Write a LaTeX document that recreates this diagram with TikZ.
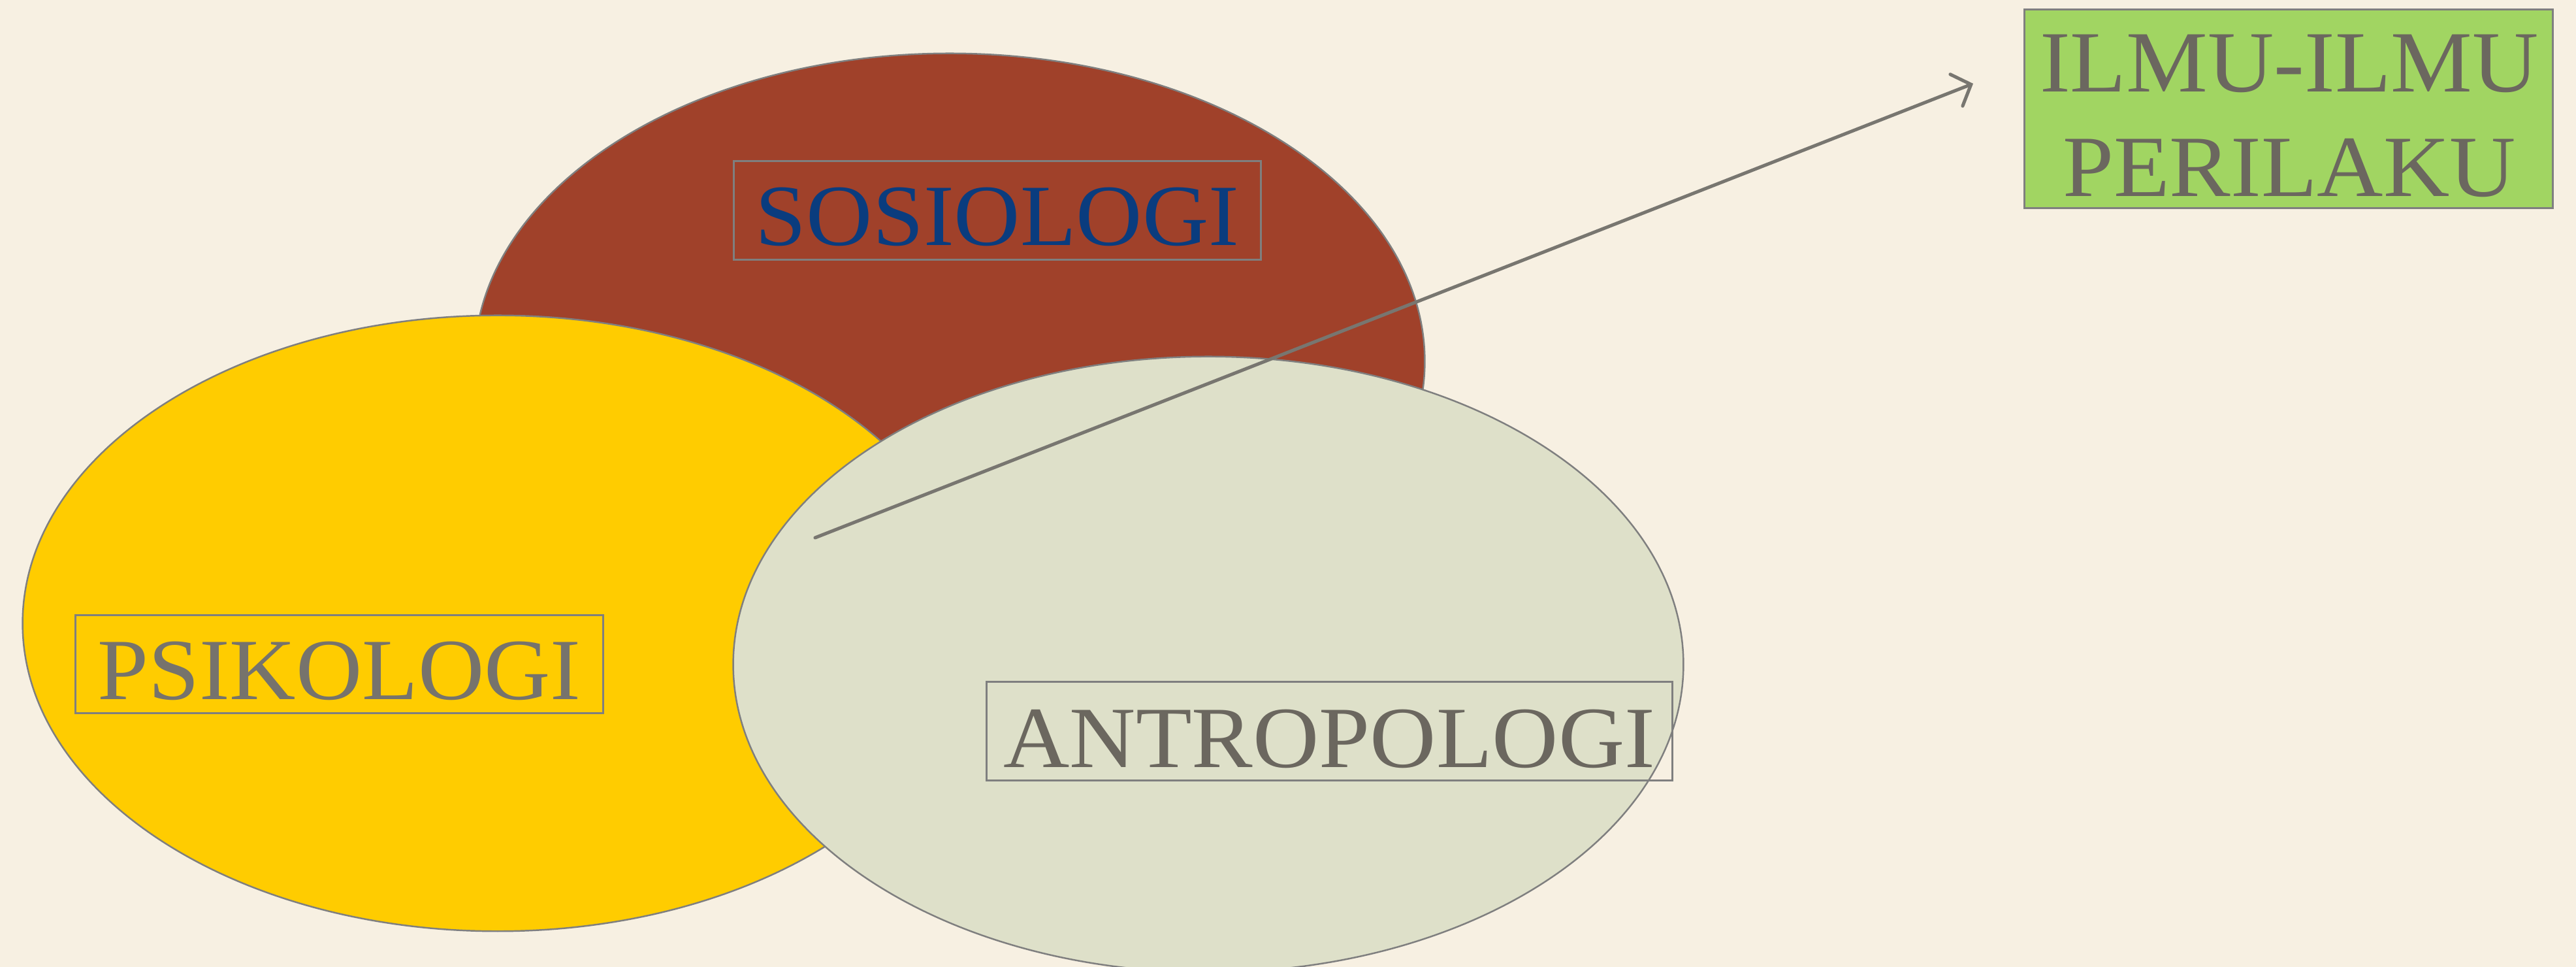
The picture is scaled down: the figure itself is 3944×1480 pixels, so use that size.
\documentclass[tikz,border=0pt]{standalone}
\usepackage{fontspec}
\usetikzlibrary{shapes.geometric,arrows.meta}
\newfontfamily\labelfont[FakeStretch=1.05]{Liberation Serif}

\definecolor{paper}{HTML}{F7F0E2}
\definecolor{rust}{HTML}{A0412A}
\definecolor{sun}{HTML}{FFCC00}
\definecolor{sage}{HTML}{DEE0C9}
\definecolor{leaf}{HTML}{A1D562}
\definecolor{rim}{HTML}{7F7F7F}
\definecolor{ink}{HTML}{6B675F}
\definecolor{inklight}{HTML}{76736C}
\definecolor{navy}{HTML}{0A3C7E}
\definecolor{pointer}{HTML}{787670}

\tikzset{
  field/.style={ellipse, draw=rim, line width=0.7pt, inner sep=0pt,
    minimum width=14.54cm, minimum height=9.42cm},
  tag/.style={draw=rim, line width=0.85pt, inner sep=0pt, align=center,
    font=\labelfont\fontsize{38}{45.5}\selectfont},
  pointerline/.style={draw=pointer, line width=1.45pt, line cap=round,
    -{Straight Barb[length=0.24cm, width=0.52cm, line cap=round]}}
}

\begin{document}
\begin{tikzpicture}[x=0.01cm, y=-0.01cm]
  \useasboundingbox (0,0) rectangle (3944,1480);
  \clip (0,0) rectangle (3944,1480);
  \fill[paper] (0,0) rectangle (3944,1480);

  % three overlapping fields
  \node[field, fill=rust] (sosio) at (1454,553) {};
  \node[field, fill=sun]  (psiko) at (762,954) {};
  \node[field, fill=sage] (antro) at (1850,1017) {};

  % field labels in framed boxes (baseline set by text height / depth)
  \node[tag, text=navy, text width=8.06cm, text height=1.29cm, text depth=0.22cm]
    (sosiotag) at (1527,245) [anchor=north] {SOSIOLOGI};
  \node[tag, text=inklight, text width=8.07cm, text height=1.29cm, text depth=0.21cm]
    (psikotag) at (519.5,940) [anchor=north] {PSIKOLOGI};
  \node[tag, text=ink, text width=10.49cm, text height=1.31cm, text depth=0.20cm]
    (antrotag) at (2035.5,1042) [anchor=north] {ANTROPOLOGI};

  % target box
  \node[tag, fill=leaf, minimum width=8.08cm, minimum height=3.03cm]
    (ilmu) at (3504,166.5) {};
  \node[text=ink, inner sep=0pt, align=center,
    font=\labelfont\fontsize{38}{45.5}\selectfont]
    (ilmutext) at (3505,177) {ILMU-ILMU\\PERILAKU};

  % arrow from the overlap towards the target box
  \coordinate (pstart) at (1248,823);
  \coordinate (pend) at (3021,128);
  \draw[pointerline] (pstart) -- (pend);
\end{tikzpicture}
\end{document}
